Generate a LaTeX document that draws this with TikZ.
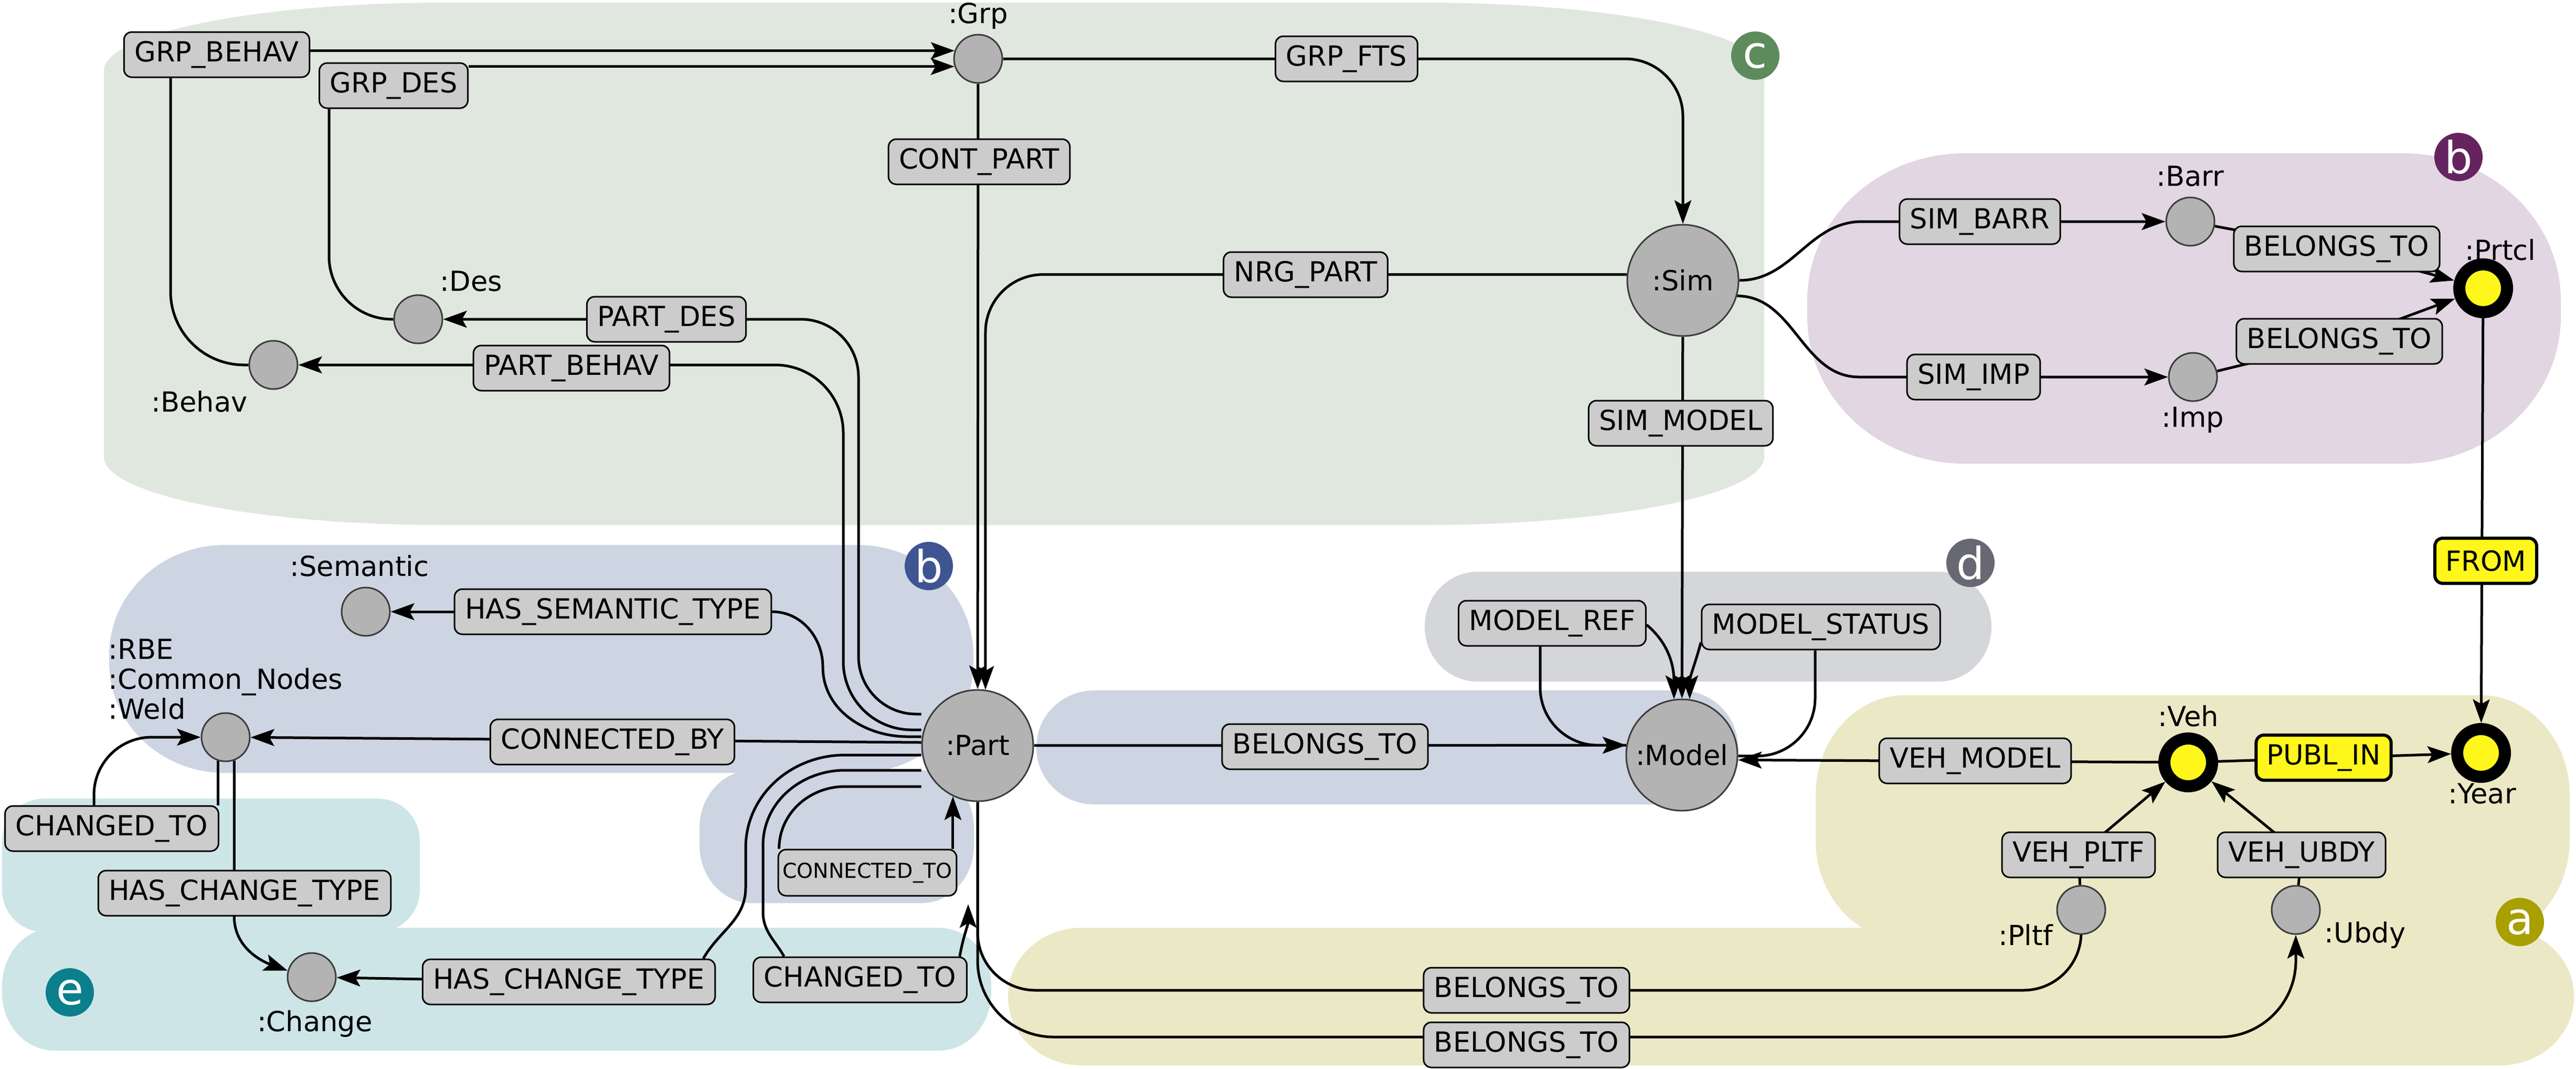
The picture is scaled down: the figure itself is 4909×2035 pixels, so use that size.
\documentclass[tikz,border=0pt]{standalone}
\usepackage{fontspec}
\setmainfont{DejaVu Sans}
\usepackage{tikz}
\usetikzlibrary{arrows.meta, backgrounds}
\definecolor{zoneGreen}{HTML}{E0E7DF}
\definecolor{zonePurple}{HTML}{E1D6E2}
\definecolor{zoneBlue}{HTML}{CDD5E2}
\definecolor{zoneGray}{HTML}{D4D6D9}
\definecolor{zoneYellow}{HTML}{EBE9C5}
\definecolor{zoneCyan}{HTML}{CEE5E8}
\definecolor{tagGreen}{HTML}{5E8B5C}
\definecolor{tagPurple}{HTML}{65245F}
\definecolor{tagBlue}{HTML}{3E5592}
\definecolor{tagGray}{HTML}{686874}
\definecolor{tagOlive}{HTML}{A89F00}
\definecolor{tagTeal}{HTML}{0B7F8B}
\definecolor{entfill}{HTML}{B3B3B3}
\definecolor{entline}{HTML}{3C3C3C}
\definecolor{relfill}{HTML}{CCCCCC}
\definecolor{hilite}{HTML}{FFF71C}
\newcommand{\fs}{\fontsize{15}{16.2}\selectfont}
% rounded zone: colour, x1, y1, x2, y2, rx, ry
\newcommand{\drawzone}[7]{%
  \fill[#1] ({#2+#6},#3) -- ({#4-#6},#3)
    .. controls ({#4-0.448*#6},#3) and (#4,{#3+0.448*#7}) .. (#4,{#3+#7})
    -- (#4,{#5-#7})
    .. controls (#4,{#5-0.448*#7}) and ({#4-0.448*#6},#5) .. ({#4-#6},#5)
    -- ({#2+#6},#5)
    .. controls ({#2+0.448*#6},#5) and (#2,{#5-0.448*#7}) .. (#2,{#5-#7})
    -- (#2,{#3+#7})
    .. controls (#2,{#3+0.448*#7}) and ({#2+0.448*#6},#3) .. ({#2+#6},#3) -- cycle;}

\begin{document}
\begin{tikzpicture}[
    x=0.1mm, y=-0.1mm,
    ent/.style={circle, draw=entline, fill=entfill, line width=0.3mm, minimum size=#1, inner sep=0pt, font=\fs},
    ent/.default=9.2mm,
    key/.style={circle, draw=black, fill=hilite, line width=2.3mm, minimum size=9.1mm, inner sep=0pt},
    rel/.style={rectangle, rounded corners=1.5mm, draw=black, line width=0.3mm, fill=#1, minimum height=8.6mm, inner xsep=2mm, inner ysep=0pt, font=\fs},
    rel/.default=relfill,
    txt/.style={inner sep=0pt, font=\fs},
    badge/.style={circle, fill=#1, text=white, minimum size=9.2mm, inner sep=0pt, font=\fontsize{24}{24}\selectfont},
    link/.style={line width=0.5mm, black},
    arr/.style={link, -{Stealth[length=4.5mm, width=3.2mm, inset=0.9mm]}}
]
\useasboundingbox (0,0) rectangle (4909,2035);

% Zones
\begin{scope}[on background layer]
\drawzone{zoneGreen}{198}{5}{3362}{1000}{650}{130}
\drawzone{zonePurple}{3444}{292}{4880}{883}{300}{280}
\drawzone{zoneBlue}{208}{1038}{1855}{1472}{220}{210}
\drawzone{zoneBlue}{1333}{1467}{1856}{1720}{100}{110}
\drawzone{zoneBlue}{1975}{1315}{3312}{1532}{110}{108}
\drawzone{zoneGray}{2715}{1089}{3795}{1298}{100}{104}
\drawzone{zoneYellow}{3460}{1324}{4897}{1790}{170}{190}
\drawzone{zoneYellow}{1921}{1767}{4905}{2029}{140}{130}
\drawzone{zoneCyan}{4}{1521}{800}{1775}{80}{80}
\drawzone{zoneCyan}{4}{1767}{1889}{2001}{100}{110}
\end{scope}

% Zone tags
\node[badge=tagGreen] (tagC) at (3345,106) {c};
\node[badge=tagPurple] (tagB1) at (4685,299) {b};
\node[badge=tagBlue] (tagB2) at (1770,1078) {b};
\node[badge=tagGray] (tagD) at (3755,1072) {d};
\node[badge=tagOlive] (tagA) at (4802,1756) {a};
\node[badge=tagTeal] (tagE) at (133,1890) {e};

% Entities
\node[ent] (Grp) at (1864,112) {};
\node[ent] (Des) at (797,608) {};
\node[ent] (Behav) at (521,695) {};
\node[ent=21.2mm] (Sim) at (3207,534) {:Sim};
\node[ent] (Barr) at (4174,422) {};
\node[ent] (Imp) at (4179,718) {};
\node[key] (Prtcl) at (4732,549) {};
\node[ent=21.2mm] (Part) at (1863,1420) {:Part};
\node[ent] (Semantic) at (697,1165) {};
\node[ent] (Weld) at (430,1404) {};
\node[ent] (Change) at (594,1861) {};
\node[ent=21.2mm] (Model) at (3205,1438) {:Model};
\node[key] (Veh) at (4170,1452) {};
\node[key] (Year) at (4728,1434) {};
\node[ent] (Pltf) at (3966,1733) {};
\node[ent] (Ubdy) at (4375,1733) {};

% Entity names
\node[txt] (Grp-t) at (1864,30) {:Grp};
\node[txt] (Des-t) at (898,536) {:Des};
\node[txt] (Behav-t) at (380,765) {:Behav};
\node[txt] (Barr-t) at (4174,336) {:Barr};
\node[txt] (Imp-t) at (4179,800) {:Imp};
\node[txt] (Prtcl-t) at (4765,476) {:Prtcl};
\node[txt] (Semantic-t) at (685,1078) {:Semantic};
\node[txt, align=left, anchor=west] (Weld-t) at (206,1294) {:RBE\\:Common\_Nodes\\:Weld};
\node[txt] (Change-t) at (600,1950) {:Change};
\node[txt] (Veh-t) at (4170,1364) {:Veh};
\node[txt] (Year-t) at (4730,1512) {:Year};
\node[txt] (Pltf-t) at (3860,1780) {:Pltf};
\node[txt] (Ubdy-t) at (4507,1781) {:Ubdy};

% Relations
\node[rel] (GRPBEHAV) at (413,104) {GRP\_BEHAV};
\node[rel] (GRPDES) at (750,163) {GRP\_DES};
\node[rel] (GRPFTS) at (2566,112) {GRP\_FTS};
\node[rel] (CONTPART) at (1866,308) {CONT\_PART};
\node[rel] (NRGPART) at (2488,523) {NRG\_PART};
\node[rel] (PARTDES) at (1270,608) {PART\_DES};
\node[rel] (PARTBEHAV) at (1089,701) {PART\_BEHAV};
\node[rel] (SIMMODEL) at (3203,806) {SIM\_MODEL};
\node[rel] (SIMBARR) at (3773,422) {SIM\_BARR};
\node[rel] (SIMIMP) at (3761,718) {SIM\_IMP};
\node[rel] (BTBARR) at (4453,474) {BELONGS\_TO};
\node[rel] (BTIMP) at (4458,650) {BELONGS\_TO};
\node[rel=hilite, line width=0.6mm] (FROM) at (4737,1068) {FROM};
\node[rel] (HASSEM) at (1168,1165) {HAS\_SEMANTIC\_TYPE};
\node[rel] (CONBY) at (1167,1413) {CONNECTED\_BY};
\node[rel] (CHTOW) at (213,1578) {CHANGED\_TO};
\node[rel] (HCTW) at (466,1701) {HAS\_CHANGE\_TYPE};
\node[rel] (HCTP) at (1084,1870) {HAS\_CHANGE\_TYPE};
\node[rel] (CHTOP) at (1639,1866) {CHANGED\_TO};
\node[rel, font=\fontsize{11.2}{13}\selectfont, inner xsep=0.8mm, minimum height=8.8mm] (CONTO) at (1653,1662) {CONNECTED\_TO};
\node[rel] (MODELREF) at (2958,1187) {MODEL\_REF};
\node[rel] (MODELSTATUS) at (3470,1194) {MODEL\_STATUS};
\node[rel] (BTMODEL) at (2525,1422) {BELONGS\_TO};
\node[rel] (BTPLTF) at (2909,1886) {BELONGS\_TO};
\node[rel] (BTUBDY) at (2909,1990) {BELONGS\_TO};
\node[rel] (VEHMODEL) at (3764,1449) {VEH\_MODEL};
\node[rel=hilite, line width=0.6mm] (PUBLIN) at (4428,1443) {PUBL\_IN};
\node[rel] (VEHPLTF) at (3961,1628) {VEH\_PLTF};
\node[rel] (VEHUBDY) at (4386,1628) {VEH\_UBDY};

\coordinate (chgtip) at (1845,1722);

% Connectors
\begin{scope}[on background layer]
% group
\draw[link, rounded corners=14mm] (Behav.west) -| ([xshift=-8.8mm]GRPBEHAV.south);
\draw[arr] (GRPBEHAV.east |- Grp.161) -- (Grp.161);
\draw[link, rounded corners=12mm] (Des.west) -| ([xshift=-12.3mm]GRPDES.south);
\draw[arr] (GRPDES.east |- Grp.198) -- (Grp.198);
\draw[arr, rounded corners=11mm] (Grp) -| (Sim);
\draw[arr] (Grp) -- (Part);
\draw[arr, rounded corners=11mm] (Sim.174) -| (Part.82);
% simulation
\draw[arr] (Sim.east) to[out=0,in=180] ([xshift=-7mm]SIMBARR.west) -- (Barr);
\draw[arr] (Sim.-16) to[out=0,in=180] ([xshift=-9mm]SIMIMP.west) -- (Imp);
\draw[arr] (Barr) -- (BTBARR.center) -- (Prtcl);
\draw[arr] (Imp) -- (BTIMP.center) -- (Prtcl);
\draw[arr] (Prtcl) -- (Year);
\draw[arr] (Sim) -- (Model);
% part
\draw[arr, rounded corners=11mm] ([yshift=6mm]Part.west) -| (1636,608) -- (Des);
\draw[arr, rounded corners=13mm] ([yshift=3mm]Part.west) -| (1607,695) -- (Behav);
\draw[link] ([yshift=1.7mm]Part.west) -- (1730,1403) to[out=180,in=-90] (1568,1270) to[out=90,in=0] (HASSEM.east);
\draw[arr] (HASSEM) -- (Semantic);
\draw[arr] ([yshift=0.6mm]Part.west) -- (Weld);
\draw[link] (Weld.252) -- (Weld.252 |- CHTOW.north);
\draw[arr, rounded corners=11mm] ([xshift=-3.4mm]CHTOW.north) |- (Weld);
\draw[arr] (Weld.290) -- (Weld.290 |- HCTW.south) to[out=-90,in=160] (Change.165);
\draw[link] ([yshift=-1.8mm]Part.west) -- (1610,1438) to[out=180,in=90] (1421,1615) -- (1421,1690) to[out=-90,in=60] ([xshift=-2.4mm]HCTP.north east);
\draw[arr] (HCTP) -- (Change);
\draw[link] ([yshift=-4.7mm]Part.west) -- (1610,1467) to[out=180,in=90] (1454,1610) -- (1454,1737) to[out=-90,in=120] ([xshift=6mm]CHTOP.north west);
\draw[arr] ([xshift=-1.5mm]CHTOP.north east) to[out=80,in=-90] (chgtip);
\draw[link] ([yshift=-7.8mm]Part.west) -- (1610,1498) to[out=180,in=90] ([xshift=0.3mm]CONTO.north west);
\draw[arr] (CONTO.north east -| Part.244) -- (Part.244);
% model
\draw[arr] (Part) -- (Model.170);
\draw[link, rounded corners=11mm] (Model.170) -| ([xshift=-2.3mm]MODELREF.south);
\draw[arr] ([yshift=-0.3mm]MODELREF.east) to[out=-40,in=90] (Model.98);
\draw[link, rounded corners=11mm] (Model.-1) -| ([xshift=-1.1mm]MODELSTATUS.south);
\draw[arr] ([yshift=1.5mm]MODELSTATUS.south west) to[out=-105,in=90] (Model.82);
% vehicle
\draw[arr] (Veh) -- (Model.-5);
\draw[arr] (Veh) -- (Year);
\draw[arr] (Pltf) -- (VEHPLTF.center) -- (Veh);
\draw[arr] (Ubdy) -- (VEHUBDY.center) -- (Veh);
\draw[arr, rounded corners=11mm] (Part) |- (BTPLTF) -| (Pltf);
\draw[arr, rounded corners=14.5mm] (Part) |- ([yshift=1.5mm]BTUBDY.center) -| (Ubdy);
\end{scope}

\end{tikzpicture}
\end{document}
